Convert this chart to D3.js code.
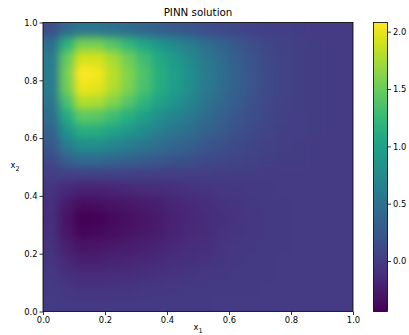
<!DOCTYPE html>
<html><head><meta charset="utf-8">
<script src="https://cdn.jsdelivr.net/npm/d3@7"></script>
<style>
html,body{margin:0;padding:0;background:#fff;}
svg{display:block;font-family:"DejaVu Sans",sans-serif;}
</style>
</head><body>
<svg id="chart" width="409" height="335"></svg>
<script>
// Cell centres of the PINN solution grid (x1 across, x2 from top to bottom)
const xCenters = [0.025,0.075,0.125,0.175,0.225,0.275,0.325,0.375,0.425,0.475,0.525,0.575,0.625,0.675,0.725,0.775,0.825,0.875,0.925,0.975];
const yCenters = [0.975,0.925,0.875,0.825,0.775,0.725,0.675,0.625,0.575,0.525,0.475,0.425,0.375,0.325,0.275,0.225,0.175,0.125,0.075,0.025];
// u(x1,x2), one row per yCenter
const values = [
 [0.16,0.42,0.55,0.55,0.50,0.44,0.37,0.31,0.26,0.22,0.16,0.12,0.09,0.06,0.03,0.02,0.01,0.00,0.00,0.00],
 [0.47,1.17,1.55,1.55,1.41,1.23,1.05,0.87,0.74,0.61,0.46,0.35,0.24,0.16,0.09,0.05,0.02,0.01,0.00,0.00],
 [0.58,1.47,1.92,1.92,1.74,1.52,1.30,1.08,0.92,0.76,0.57,0.44,0.30,0.20,0.11,0.06,0.03,0.01,0.00,0.00],
 [0.61,1.55,2.08,2.05,1.82,1.60,1.37,1.14,0.97,0.80,0.60,0.46,0.32,0.21,0.12,0.06,0.03,0.01,0.00,0.00],
 [0.60,1.52,2.01,1.99,1.79,1.58,1.35,1.12,0.96,0.79,0.59,0.45,0.32,0.21,0.12,0.06,0.03,0.01,0.00,0.00],
 [0.54,1.35,1.79,1.77,1.60,1.41,1.20,1.00,0.85,0.70,0.53,0.40,0.28,0.18,0.11,0.05,0.03,0.01,0.00,0.00],
 [0.44,1.09,1.44,1.43,1.29,1.14,0.97,0.81,0.69,0.57,0.43,0.33,0.23,0.15,0.09,0.04,0.02,0.01,0.00,0.00],
 [0.35,0.86,1.14,1.13,1.02,0.90,0.77,0.64,0.54,0.45,0.34,0.26,0.18,0.12,0.07,0.03,0.02,0.01,0.00,0.00],
 [0.24,0.60,0.79,0.79,0.71,0.62,0.54,0.45,0.38,0.31,0.23,0.18,0.12,0.08,0.05,0.02,0.01,0.00,0.00,0.00],
 [0.12,0.32,0.42,0.41,0.37,0.33,0.28,0.24,0.20,0.17,0.12,0.10,0.07,0.04,0.03,0.01,0.01,0.00,0.00,0.00],
 [0.02,0.05,0.06,0.06,0.06,0.05,0.04,0.03,0.03,0.02,0.02,0.01,0.01,0.01,0.00,0.00,0.00,0.00,0.00,0.00],
 [-0.05,-0.14,-0.19,-0.19,-0.17,-0.15,-0.13,-0.12,-0.09,-0.07,-0.06,-0.04,-0.03,-0.02,-0.01,0.00,0.00,0.00,0.00,0.00],
 [-0.09,-0.26,-0.35,-0.34,-0.31,-0.28,-0.25,-0.22,-0.17,-0.14,-0.11,-0.07,-0.05,-0.03,-0.02,-0.01,0.00,0.00,0.00,0.00],
 [-0.11,-0.31,-0.44,-0.43,-0.38,-0.34,-0.30,-0.26,-0.20,-0.16,-0.13,-0.09,-0.06,-0.04,-0.02,-0.01,0.00,0.00,0.00,0.00],
 [-0.10,-0.29,-0.41,-0.40,-0.36,-0.32,-0.28,-0.25,-0.19,-0.15,-0.13,-0.08,-0.05,-0.04,-0.02,-0.01,0.00,0.00,0.00,0.00],
 [-0.08,-0.22,-0.31,-0.30,-0.27,-0.25,-0.22,-0.19,-0.15,-0.12,-0.10,-0.06,-0.04,-0.03,-0.01,-0.01,0.00,0.00,0.00,0.00],
 [-0.05,-0.16,-0.22,-0.22,-0.20,-0.18,-0.16,-0.14,-0.11,-0.09,-0.07,-0.05,-0.03,-0.02,-0.01,0.00,0.00,0.00,0.00,0.00],
 [-0.03,-0.09,-0.13,-0.13,-0.12,-0.11,-0.09,-0.08,-0.06,-0.05,-0.04,-0.03,-0.02,-0.01,-0.01,0.00,0.00,0.00,0.00,0.00],
 [-0.01,-0.04,-0.06,-0.06,-0.06,-0.05,-0.04,-0.04,-0.03,-0.02,-0.02,-0.01,-0.01,-0.01,0.00,0.00,0.00,0.00,0.00,0.00],
 [0.00,-0.02,-0.02,-0.02,-0.02,-0.02,-0.02,-0.01,-0.01,-0.01,-0.01,0.00,0.00,0.00,0.00,0.00,0.00,0.00,0.00,0.00]
];
const xTicks = [0.0,0.2,0.4,0.6,0.8,1.0];
const yTicks = [0.0,0.2,0.4,0.6,0.8,1.0];
const cbTicks = [0.0,0.5,1.0,1.5,2.0];
const titleText = "PINN solution";

const svg = d3.select("#chart");
const L = 43, R = 353, T = 22.5, B = 311.5;
const x = d3.scaleLinear().domain([0,1]).range([L,R]);
const y = d3.scaleLinear().domain([0,1]).range([B,T]);
const xb = d3.scaleBand().domain(xCenters).range([L,R]).padding(0);
const yb = d3.scaleBand().domain(yCenters).range([T,B]).padding(0);
const flat = values.flat();
const ext = d3.extent(flat);
const color = d3.scaleSequential(d3.interpolateViridis).domain(ext);

const defs = svg.append("defs");
defs.append("clipPath").attr("id","plotclip").append("rect")
  .attr("x",L).attr("y",T).attr("width",R-L).attr("height",B-T);
const PAD = 20;
const flt = defs.append("filter").attr("id","smooth")
  .attr("filterUnits","userSpaceOnUse").attr("x",L-PAD).attr("y",T-PAD)
  .attr("width",R-L+2*PAD).attr("height",B-T+2*PAD).attr("color-interpolation-filters","sRGB");
flt.append("feGaussianBlur").attr("stdDeviation",4);

const nx = xCenters.length, ny = yCenters.length;
const cells = [];
values.forEach((row,j)=>row.forEach((v,i)=>cells.push({i,j,xc:xCenters[i],yc:yCenters[j],v})));
const bw = xb.bandwidth(), bh = yb.bandwidth();
svg.append("g").attr("clip-path","url(#plotclip)")
  .append("g").attr("filter","url(#smooth)").attr("shape-rendering","crispEdges")
  .selectAll("rect").data(cells).join("rect")
  .attr("x",d=>xb(d.xc)-(d.i===0?PAD:0))
  .attr("y",d=>yb(d.yc)-(d.j===0?PAD:0))
  .attr("width",d=>bw+0.6+(d.i===0?PAD:0)+(d.i===nx-1?PAD:0))
  .attr("height",d=>bh+0.6+(d.j===0?PAD:0)+(d.j===ny-1?PAD:0))
  .attr("fill",d=>color(d.v));

svg.append("rect").attr("x",L).attr("y",T).attr("width",R-L).attr("height",B-T)
  .attr("fill","none").attr("stroke","#000").attr("stroke-width",0.8);

const fmt = d3.format(".1f");
const ax = svg.append("g").attr("transform",`translate(0,${B})`)
  .call(d3.axisBottom(x).tickValues(xTicks).tickFormat(fmt).tickSize(3.5).tickPadding(2));
const ay = svg.append("g").attr("transform",`translate(${L},0)`)
  .call(d3.axisLeft(y).tickValues(yTicks).tickFormat(fmt).tickSize(3.5).tickPadding(2));
[ax,ay].forEach(g=>{
  g.select(".domain").remove();
  g.selectAll("line").attr("stroke","#000").attr("stroke-width",0.8);
  g.selectAll("text").attr("fill","#000").style("font-size","8.4px").style("font-family","DejaVu Sans");
});

svg.append("text").attr("x",(L+R)/2).attr("y",16).attr("text-anchor","middle")
  .style("font-size","10.3px").attr("fill","#000").text(titleText);

const xl = svg.append("text").attr("x",(L+R)/2).attr("y",330).attr("text-anchor","middle")
  .style("font-size","8.4px").attr("fill","#000");
xl.append("tspan").text("x");
xl.append("tspan").attr("dy",2.5).style("font-size","6.5px").text("1");
const yl = svg.append("text").attr("x",15).attr("y",168).attr("text-anchor","middle")
  .style("font-size","8.4px").attr("fill","#000");
yl.append("tspan").text("x");
yl.append("tspan").attr("dy",2.5).style("font-size","6.5px").text("2");

// colorbar
const CL = 373.5, CR = 387.5;
const cy = d3.scaleLinear().domain(ext).range([B,T]);
const grad = defs.append("linearGradient").attr("id","cb").attr("x1","0").attr("y1","1").attr("x2","0").attr("y2","0");
d3.range(0,1.0001,0.05).forEach(t=>grad.append("stop").attr("offset",t).attr("stop-color",d3.interpolateViridis(t)));
svg.append("rect").attr("x",CL).attr("y",T).attr("width",CR-CL).attr("height",B-T)
  .attr("fill","url(#cb)").attr("stroke","#000").attr("stroke-width",0.8);
const ac = svg.append("g").attr("transform",`translate(${CR},0)`)
  .call(d3.axisRight(cy).tickValues(cbTicks).tickFormat(fmt).tickSize(3.5).tickPadding(2));
ac.select(".domain").remove();
ac.selectAll("line").attr("stroke","#000").attr("stroke-width",0.8);
ac.selectAll("text").attr("fill","#000").style("font-size","8.4px").style("font-family","DejaVu Sans");
</script>
</body></html>
